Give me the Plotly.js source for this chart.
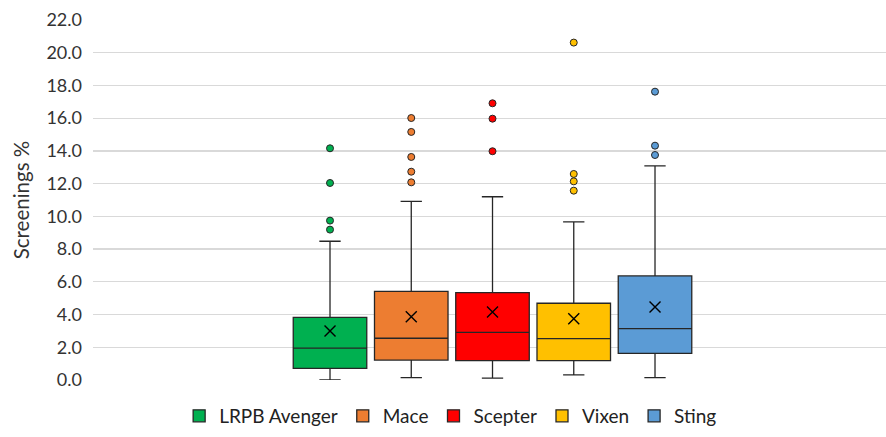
<!DOCTYPE html>
<html>
<head>
<meta charset="utf-8">
<script src="https://cdn.plot.ly/plotly-3.0.1.min.js"></script>
<style>html,body{margin:0;padding:0;background:#fff;}#chart{width:886px;height:437px;}</style>
</head>
<body>
<div id="chart"></div>
<script>
// Varieties (legend order)
const varieties = ["LRPB Avenger", "Mace", "Scepter", "Vixen", "Sting"];
const colors = ["#00B050", "#ED7D31", "#FF0000", "#FFC000", "#5B9BD5"];
// Box statistics (Screenings %)
const lowerWhisker = [0.0, 0.14, 0.12, 0.31, 0.14];
const q1Values     = [0.71, 1.22, 1.18, 1.18, 1.63];
const medianValues = [1.95, 2.55, 2.91, 2.53, 3.14];
const q3Values     = [3.83, 5.42, 5.34, 4.69, 6.36];
const upperWhisker = [8.48, 10.92, 11.20, 9.66, 13.08];
const meanValues   = [3.00, 3.87, 4.16, 3.75, 4.46];
// Outliers per variety
const outliers = [
  [14.16, 12.04, 9.74, 9.19],
  [16.01, 15.16, 13.63, 12.73, 12.08],
  [16.91, 15.97, 13.98],
  [20.62, 12.59, 12.14, 11.57],
  [17.62, 14.32, 13.75]
];
const yTicks = [0, 2, 4, 6, 8, 10, 12, 14, 16, 18, 20, 22];

const outlineColor = "#262626";
const traces = [];
varieties.forEach((name, i) => {
  traces.push({
    type: "box",
    name: name,
    x: [i],
    q1: [q1Values[i]],
    median: [medianValues[i]],
    q3: [q3Values[i]],
    lowerfence: [lowerWhisker[i]],
    upperfence: [upperWhisker[i]],
    width: 0.905,
    whiskerwidth: 0.29,
    boxpoints: false,
    fillcolor: colors[i],
    line: {color: outlineColor, width: 1.3},
    hoverinfo: "skip",
    legendgroup: name
  });
});
varieties.forEach((name, i) => {
  traces.push({
    type: "scatter",
    mode: "markers",
    x: outliers[i].map(() => i),
    y: outliers[i],
    marker: {symbol: "circle", size: 7, color: colors[i], line: {color: outlineColor, width: 1}},
    showlegend: false,
    hoverinfo: "skip",
    legendgroup: name
  });
  traces.push({
    type: "scatter",
    mode: "markers",
    x: [i],
    y: [meanValues[i]],
    marker: {symbol: "x-thin-open", size: 11, color: "#000", line: {color: "#000", width: 1.4}},
    showlegend: false,
    hoverinfo: "skip",
    legendgroup: name
  });
});

const layout = {
  width: 886,
  height: 437,
  margin: {l: 93, r: 0, t: 20, b: 57},
  paper_bgcolor: "#fff",
  plot_bgcolor: "#fff",
  font: {family: "Lato, 'Open Sans', sans-serif", color: "#333", size: 18},
  showlegend: true,
  hovermode: false,
  xaxis: {
    range: [-2.917, 6.843],
    showgrid: false,
    zeroline: false,
    showticklabels: false,
    ticks: "",
    showline: false,
    fixedrange: true
  },
  yaxis: {
    range: [0, 22],
    tickvals: yTicks,
    ticktext: yTicks.map(v => v.toFixed(1)),
    showgrid: true,
    gridcolor: "#D9D9D9",
    gridwidth: 1.3,
    zeroline: false,
    showline: false,
    ticks: "",
    ticklabelstandoff: 10,
    tickfont: {size: 18, color: "#333"},
    title: {text: "Screenings %", font: {size: 20.5, color: "#333"}, standoff: 11},
    fixedrange: true
  },
  legend: {
    orientation: "h",
    x: 0.451,
    xanchor: "center",
    y: -0.1,
    yanchor: "middle",
    itemwidth: 30,
    font: {size: 19, color: "#222"},
    traceorder: "normal"
  }
};

Plotly.newPlot("chart", traces, layout, {displayModeBar: false, staticPlot: true});
</script>
</body>
</html>
